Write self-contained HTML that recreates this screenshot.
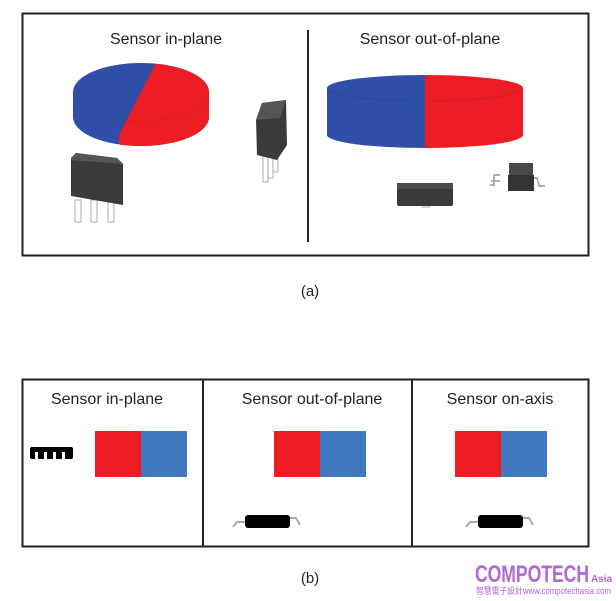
<!DOCTYPE html>
<html><head><meta charset="utf-8"><style>
html,body{margin:0;padding:0;background:#fff;width:616px;height:601px;overflow:hidden}
text{font-family:"Liberation Sans",Arial,sans-serif;fill:#222}
</style></head><body>
<svg width="616" height="601" viewBox="0 0 616 601" xmlns="http://www.w3.org/2000/svg">
<rect x="22.5" y="13.5" width="566" height="242" fill="none" stroke="#222" stroke-width="2"/>
<line x1="308" y1="30" x2="308" y2="242" stroke="#222" stroke-width="2"/>
<text x="166" y="44" font-size="16" text-anchor="middle">Sensor in-plane</text>
<text x="430" y="44" font-size="16" text-anchor="middle">Sensor out-of-plane</text>

<defs>
<clipPath id="d1"><path d="M73 92 A68 29 0 0 1 209 92 L209 117 A68 29 0 0 1 73 117 Z"/></clipPath>
<clipPath id="d2"><path d="M327 88 A98 13 0 0 1 523 88 L523 135 A98 13 0 0 1 327 135 Z"/></clipPath>
</defs>
<g clip-path="url(#d1)">
<rect x="60" y="55" width="160" height="110" fill="#2f4fa8"/>
<path d="M160 55 L220 55 L220 165 L119 165 L119 135 Z" fill="#ec1c24"/>
</g>
<path d="M73 92 A68 29 0 0 0 209 92" fill="none" stroke="#9a2030" stroke-width="0.6" opacity="0.4"/>
<g clip-path="url(#d2)">
<rect x="320" y="70" width="105" height="90" fill="#2f4fa8"/>
<rect x="425" y="70" width="105" height="90" fill="#ec1c24"/>
</g>
<path d="M327 88 A98 13 0 0 0 523 88" fill="none" stroke="#602040" stroke-width="0.6" opacity="0.35"/>

<g stroke="#999" stroke-width="0.8" fill="#fff">
<rect x="75" y="200" width="6" height="22"/><rect x="91" y="200" width="6" height="22"/><rect x="108" y="200" width="6" height="22"/>
</g>
<path d="M71 158 L76 153 L117 158 L123 164 L123 205 L71 196 Z" fill="#3a3a3a"/>
<path d="M71 158 L76 153 L117 158 L123 164 L71 160 Z" fill="#555"/>
<g stroke="#999" stroke-width="0.8" fill="#fff">
<rect x="263" y="150" width="5" height="32"/><rect x="268" y="150" width="5" height="28"/><rect x="273" y="145" width="5" height="27"/>
</g>
<path d="M256 120 L262 103 L286 100 L287 145 L277 160 L257 155 Z" fill="#3a3a3a"/>
<path d="M256 120 L262 103 L286 100 L280 118 Z" fill="#555"/>

<rect x="422" y="199" width="8" height="8" fill="#fff" stroke="#999" stroke-width="0.8"/>
<rect x="397" y="183" width="56" height="23" rx="2" fill="#3a3a3a"/>
<rect x="397" y="183" width="56" height="6" fill="#4a4a4a"/>
<path d="M500 175 L494 175 L494 185 L490 185 M500 181 L491 181 M531 178 L537 178 L539 186 L545 186" stroke="#999" fill="none" stroke-width="1.5"/>
<rect x="509" y="163" width="24" height="13" fill="#4a4a4a"/>
<rect x="508" y="175" width="26" height="16" fill="#333"/>

<text x="310" y="296" font-size="15" text-anchor="middle">(a)</text>

<rect x="22.5" y="379.5" width="566" height="167" fill="none" stroke="#222" stroke-width="2"/>
<line x1="203" y1="380" x2="203" y2="546" stroke="#222" stroke-width="2"/>
<line x1="412" y1="380" x2="412" y2="546" stroke="#222" stroke-width="2"/>
<text x="107" y="404" font-size="16" text-anchor="middle">Sensor in-plane</text>
<text x="312" y="404" font-size="16" text-anchor="middle">Sensor out-of-plane</text>
<text x="500" y="404" font-size="16" text-anchor="middle">Sensor on-axis</text>

<rect x="95" y="431" width="46" height="46" fill="#ec1c24"/><rect x="141" y="431" width="46" height="46" fill="#4278be"/>
<rect x="274" y="431" width="46" height="46" fill="#ec1c24"/><rect x="320" y="431" width="46" height="46" fill="#4278be"/>
<rect x="455" y="431" width="46" height="46" fill="#ec1c24"/><rect x="501" y="431" width="46" height="46" fill="#4278be"/>

<rect x="30" y="447" width="43" height="12" rx="2" fill="#000"/>
<g fill="#fff"><rect x="35" y="452" width="3" height="7"/><rect x="44" y="452" width="3" height="7"/><rect x="53" y="452" width="3" height="7"/><rect x="62" y="452" width="3" height="7"/></g>

<path d="M246 522 L237 522 L233 527 M290 518 L296 518 L300 525" stroke="#aaa" fill="none" stroke-width="2"/>
<rect x="245" y="515" width="45" height="13" rx="3" fill="#000"/>
<path d="M479 522 L470 522 L466 527 M523 518 L529 518 L533 525" stroke="#aaa" fill="none" stroke-width="2"/>
<rect x="478" y="515" width="45" height="13" rx="3" fill="#000"/>

<text x="310" y="583" font-size="15" text-anchor="middle">(b)</text>

<text x="475" y="582" font-size="24" font-weight="bold" style="fill:#b467d0" textLength="114" lengthAdjust="spacingAndGlyphs">COMPOTECH</text>
<text x="591" y="582" font-size="10" font-weight="bold" style="fill:#b467d0">Asia</text>
<text x="476" y="594" font-size="9" style="fill:#b467d0;font-family:'Liberation Sans','Noto Sans CJK TC',sans-serif" textLength="135" lengthAdjust="spacingAndGlyphs">智慧電子設計www.compotechasia.com</text>
</svg>
</body></html>
